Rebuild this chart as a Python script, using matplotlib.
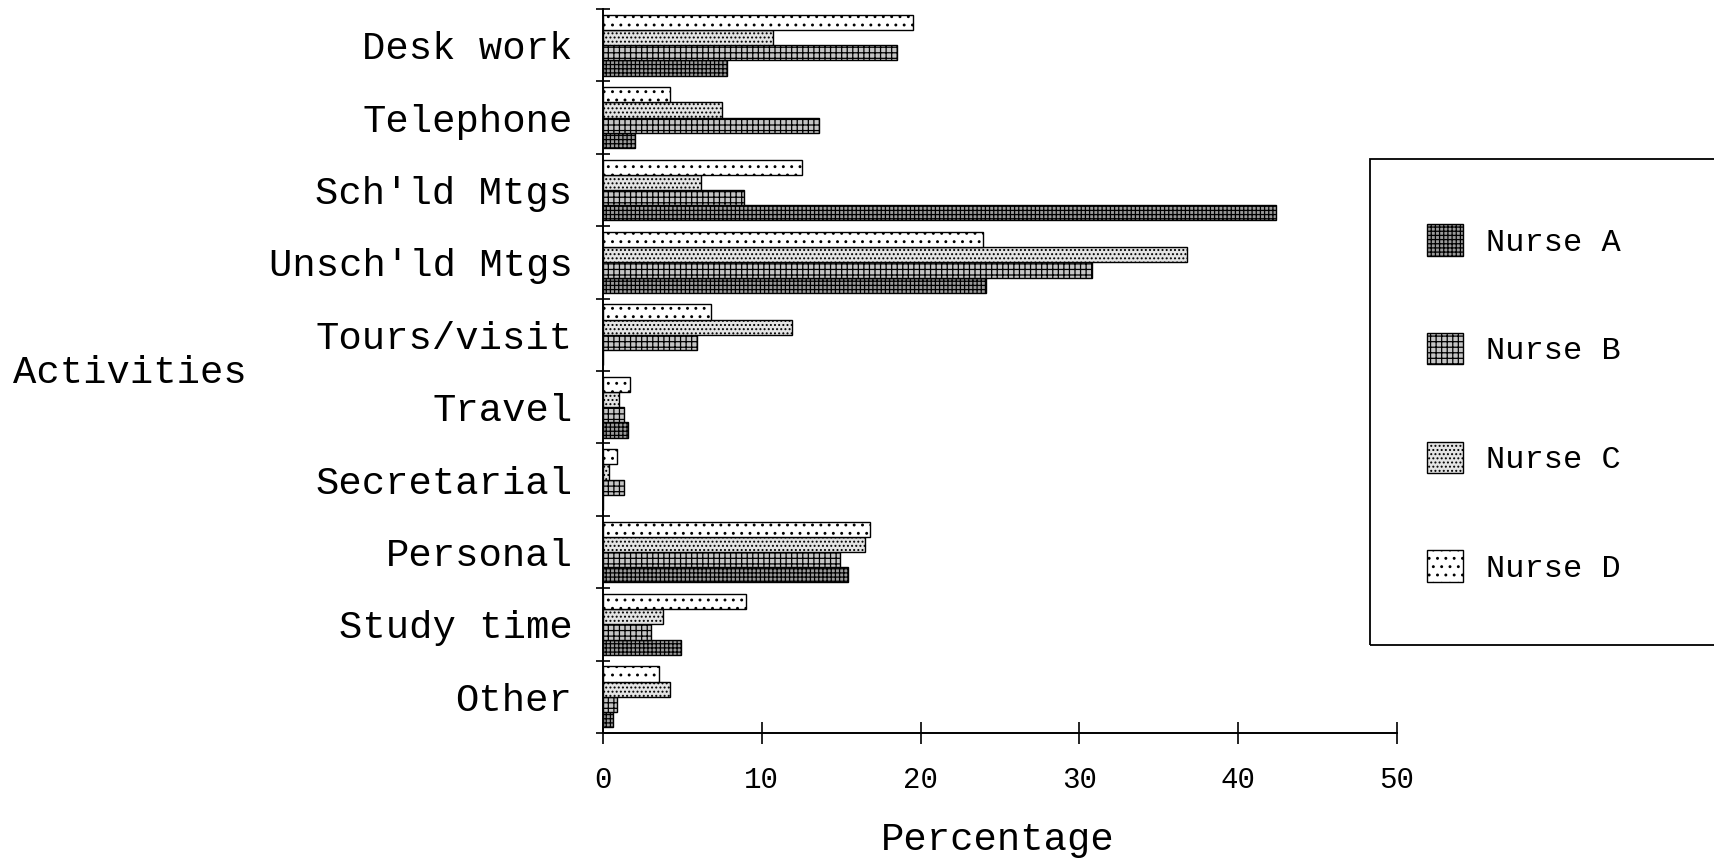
import matplotlib
matplotlib.use("Agg")
import matplotlib.pyplot as plt
from matplotlib.patches import Rectangle
import numpy as np

# categories, top to bottom as in the chart
activities = ["Desk work", "Telephone", "Sch'ld Mtgs", "Unsch'ld Mtgs", "Tours/visit",
              "Travel", "Secretarial", "Personal", "Study time", "Other"]
nurse_a = [7.8, 2.0, 42.4, 24.1, 0.0, 1.6, 0.0, 15.4, 4.9, 0.6]
nurse_b = [18.5, 13.6, 8.9, 30.8, 5.9, 1.3, 1.3, 14.9, 3.0, 0.9]
nurse_c = [10.7, 7.5, 6.2, 36.8, 11.9, 1.0, 0.4, 16.5, 3.8, 4.2]
nurse_d = [19.5, 4.2, 12.5, 23.9, 6.8, 1.7, 0.9, 16.8, 9.0, 3.5]
x_ticks = [0, 10, 20, 30, 40, 50]

plt.rcParams["hatch.linewidth"] = 0.9
MONO = "Liberation Mono"

W, H = 1715, 859
fig = plt.figure(figsize=(W / 100, H / 100), dpi=100)
ax = fig.add_axes([603 / W, 1 - 733 / H, (1397 - 603) / W, (733 - 9) / H])

n = len(activities)
centers = np.array([n - 0.5 - k for k in range(n)])
h = 0.21
# label, values, hatch, face tone, offset within the band
series = [
    ("Nurse A", nurse_a, "++++", "#9a9a9a", -1.5),
    ("Nurse B", nurse_b, "+++", "#c4c4c4", -0.5),
    ("Nurse C", nurse_c, "....", "#e4e4e4", 0.5),
    ("Nurse D", nurse_d, "..", "white", 1.5),
]
for label, vals, hatch, face, off in series:
    ax.barh(centers + off * h, vals, height=h, facecolor=face, edgecolor="black",
            hatch=hatch, linewidth=1.0, label=label)

ax.set_xlim(0, 50)
ax.set_ylim(0, n)
for s in ("top", "right"):
    ax.spines[s].set_visible(False)
ax.spines["left"].set_linewidth(1.4)
ax.spines["bottom"].set_linewidth(1.4)

ax.set_yticks(np.arange(0, n + 1))
ax.set_yticklabels([])
ax.tick_params(axis="y", which="major", direction="inout", length=10, width=1.2)
ax.set_yticks(centers, minor=True)
ax.set_yticklabels(activities, minor=True, fontfamily=MONO, fontsize=28)
ax.tick_params(axis="y", which="minor", length=0, pad=22)

ax.set_xticks(x_ticks)
ax.set_xticklabels([str(t) for t in x_ticks], fontfamily=MONO, fontsize=21)
ax.tick_params(axis="x", direction="inout", length=16, width=1.2, pad=16)

fig.text(13 / W, 1 - 373 / H, "Activities", fontfamily=MONO, fontsize=28,
         ha="left", va="center")
fig.text(998 / W, 1 - 840 / H, "Percentage", fontfamily=MONO, fontsize=28,
         ha="center", va="center")

# legend frame runs off the right edge in the original
fig.patches.append(Rectangle((1370 / W, 1 - 645 / H), 0.3, (645 - 159) / H,
                             transform=fig.transFigure, fill=False, lw=1.3,
                             edgecolor="black"))
handles, labels = ax.get_legend_handles_labels()
leg = fig.legend(handles, labels, loc="center left", bbox_to_anchor=(1398 / W, 1 - 404 / H),
                 frameon=False, prop={"family": MONO, "size": 23},
                 handlelength=1.15, handleheight=1.15, handletextpad=0.7, labelspacing=2.35)

fig.savefig("out.png", dpi=100)
